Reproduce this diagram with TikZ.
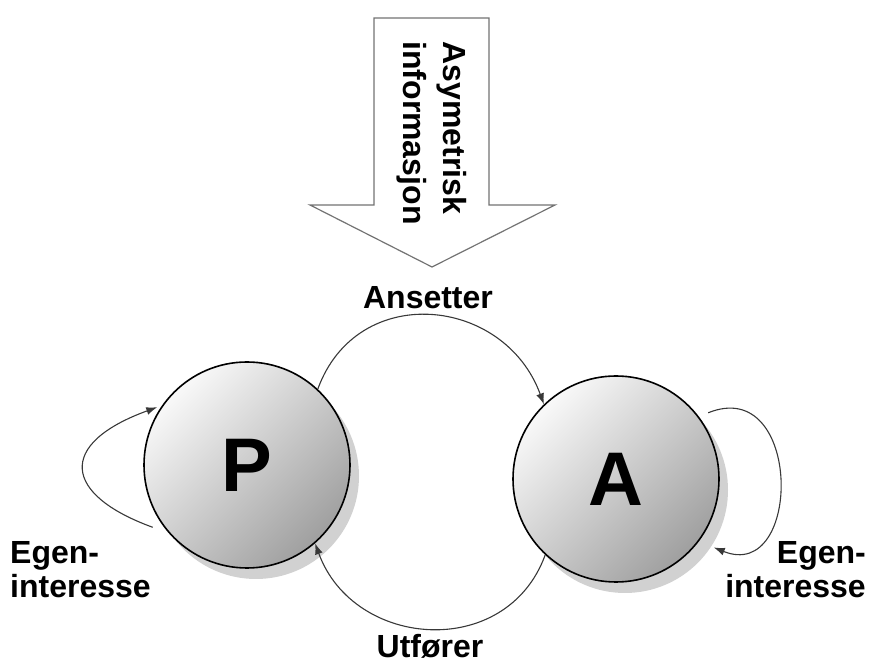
\documentclass[tikz,border=0pt]{standalone}
\usepackage{fontspec}
\setmainfont{Liberation Sans}
\usepackage{tikz}
\usetikzlibrary{arrows.meta}
\usetikzlibrary{shadows}
\definecolor{linegray}{rgb}{.22,.22,.22}
\definecolor{rimgray}{rgb}{.45,.45,.45}
\tikzstyle{party}=[circle,draw=black,line width=1.6pt,minimum size=206pt,inner sep=0pt,top color=gray!5,bottom color=gray!75,shading angle=45,drop shadow={shadow xshift=9pt,shadow yshift=-11pt,fill=black,opacity=.18},font=\fontsize{76}{76}\selectfont\bfseries]
\tikzstyle{flow}=[draw=linegray,line width=1.1pt,-{Latex[length=11pt,width=8pt]}]
\tikzstyle{txt}=[font=\fontsize{32}{34}\selectfont\bfseries,inner sep=0pt]

\begin{document}
\begin{tikzpicture}[x=1pt,y=1pt]
  \useasboundingbox (0,0) rectangle (872,666);

  % big arrow with the information
  \draw[line width=1.2pt,draw=rimgray,fill=white] (374,648) -- (489,648) -- (489,461) -- (555,461)
    -- (432,399) -- (310,461) -- (374,461) -- cycle;
  \node[txt,rotate=-90,align=left,font=\fontsize{32}{40}\selectfont\bfseries] (info) at (432,533) {Asymetrisk\\informasjon};

  \node[party] (P) at (247,201) {P};
  \node[party] (A) at (616,187) {A};

  \draw[flow] (P.47) to[out=70,in=110,looseness=1.3] (A.134);
  \draw[flow] (A.227) to[out=-110,in=-70,looseness=1.25] (P.311);
  \draw[flow,shorten <=17pt,shorten >=5pt] (P.221) to[out=160,in=200,looseness=2.25] (P.145);
  \draw[flow,shorten <=10pt,shorten >=16pt] (A.37) to[out=22,in=-22,looseness=2.3] (A.-37);

  \node[txt] (hire) at (428,368) {Ansetter};
  \node[txt] (perform) at (430,20) {Utfører};
  \node[txt,align=left,anchor=west] (selfP) at (10,96) {Egen-\\interesse};
  \node[txt,align=right,anchor=east] (selfA) at (866,96) {Egen-\\interesse};
\end{tikzpicture}
\end{document}
